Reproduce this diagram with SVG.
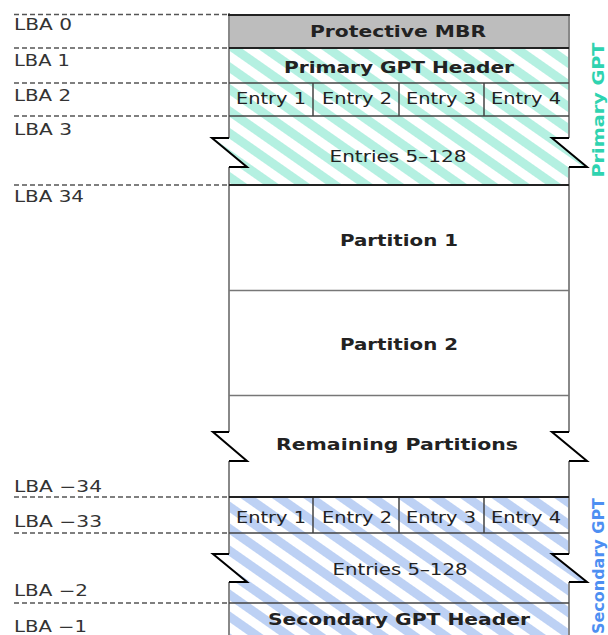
<svg xmlns="http://www.w3.org/2000/svg" width="608" height="635" viewBox="0 0 608 635">
  <style>
    .lba{font-family:"DejaVu Sans","Liberation Sans",sans-serif;font-size:15px;fill:#333}
    .t{font-family:"DejaVu Sans","Liberation Sans",sans-serif;font-size:15.5px;fill:#222;text-anchor:middle}
    .b{font-weight:bold;font-size:16.5px}
    .side{font-family:"DejaVu Sans","Liberation Sans",sans-serif;font-size:16px;font-weight:bold;text-anchor:middle}
    .dash{stroke:#555;stroke-width:1.5;stroke-dasharray:5 3;fill:none}
    .sep{stroke:#444;stroke-width:1.5;fill:none}
    .thick{stroke:#222;stroke-width:2;fill:none}
    .thin{stroke:#777;stroke-width:1.5;fill:none}
    .edge{stroke:#888;stroke-width:2;fill:none}
    .zig{stroke:#000;stroke-width:2;fill:none;stroke-linejoin:miter}
  </style>
  <defs>
    <pattern id="hatchTeal" patternUnits="userSpaceOnUse" width="18" height="18" patternTransform="rotate(-55)">
      <rect width="18" height="18" fill="#fff"/>
      <rect width="9" height="18" fill="#b4f0e1"/>
    </pattern>
    <pattern id="hatchBlue" patternUnits="userSpaceOnUse" width="18" height="18" patternTransform="rotate(-55)">
      <rect width="18" height="18" fill="#fff"/>
      <rect width="9" height="18" fill="#bdd1f4"/>
    </pattern>
  </defs>

  <!-- LBA guide lines and labels -->
  <g id="lba-guides">
    <path class="dash" d="M14,14.5H229M14,48H229M14,83H229M14,116H229M14,185H229M14,497H229M14,533H229M14,603H229"/>
    <text class="lba" x="14" y="30" textLength="58" lengthAdjust="spacingAndGlyphs">LBA 0</text>
    <text class="lba" x="14" y="66" textLength="56" lengthAdjust="spacingAndGlyphs">LBA 1</text>
    <text class="lba" x="14" y="101" textLength="57" lengthAdjust="spacingAndGlyphs">LBA 2</text>
    <text class="lba" x="14" y="135" textLength="58" lengthAdjust="spacingAndGlyphs">LBA 3</text>
    <text class="lba" x="14" y="202" textLength="70" lengthAdjust="spacingAndGlyphs">LBA 34</text>
    <text class="lba" x="14" y="492" textLength="88" lengthAdjust="spacingAndGlyphs">LBA −34</text>
    <text class="lba" x="14" y="527" textLength="88" lengthAdjust="spacingAndGlyphs">LBA −33</text>
    <text class="lba" x="14" y="596" textLength="74" lengthAdjust="spacingAndGlyphs">LBA −2</text>
    <text class="lba" x="14" y="632" textLength="73" lengthAdjust="spacingAndGlyphs">LBA −1</text>
  </g>

  <!-- Protective MBR -->
  <g id="protective-mbr">
    <rect x="229" y="15" width="340" height="33" fill="#bdbdbd"/>
    <text class="t b" x="398" y="37" textLength="176" lengthAdjust="spacingAndGlyphs">Protective MBR</text>
  </g>

  <!-- Primary GPT -->
  <g id="primary-header">
    <rect x="229" y="48" width="340" height="35" fill="url(#hatchTeal)"/>
    <text class="t b" x="399" y="73" textLength="230" lengthAdjust="spacingAndGlyphs">Primary GPT Header</text>
  </g>
  <g id="primary-entries-1-4">
    <rect x="229" y="83" width="340" height="33" fill="url(#hatchTeal)"/>
    <path class="sep" d="M313,83V116M399,83V116M484,83V116"/>
    <text class="t" x="271" y="104" textLength="70" lengthAdjust="spacingAndGlyphs">Entry 1</text>
    <text class="t" x="357" y="104" textLength="70" lengthAdjust="spacingAndGlyphs">Entry 2</text>
    <text class="t" x="441" y="104" textLength="70" lengthAdjust="spacingAndGlyphs">Entry 3</text>
    <text class="t" x="526" y="104" textLength="70" lengthAdjust="spacingAndGlyphs">Entry 4</text>
  </g>
  <g id="primary-entries-5-128">
    <path d="M229,116H569V138H552L587,167H569V185H229V167H247L212,138H229Z" fill="url(#hatchTeal)"/>
    <text class="t" x="398" y="162" textLength="137" lengthAdjust="spacingAndGlyphs">Entries 5–128</text>
  </g>

  <!-- Partitions -->
  <g id="partition-1">
    <text class="t b" x="399" y="246" textLength="118" lengthAdjust="spacingAndGlyphs">Partition 1</text>
  </g>
  <g id="partition-2">
    <text class="t b" x="399" y="350" textLength="118" lengthAdjust="spacingAndGlyphs">Partition 2</text>
  </g>
  <g id="remaining-partitions">
    <text class="t b" x="397" y="450" textLength="242" lengthAdjust="spacingAndGlyphs">Remaining Partitions</text>
  </g>

  <!-- Secondary GPT -->
  <g id="secondary-entries-1-4">
    <rect x="229" y="497" width="340" height="36" fill="url(#hatchBlue)"/>
    <path class="sep" d="M313,497V533M399,497V533M484,497V533"/>
    <text class="t" x="271" y="523" textLength="70" lengthAdjust="spacingAndGlyphs">Entry 1</text>
    <text class="t" x="357" y="523" textLength="70" lengthAdjust="spacingAndGlyphs">Entry 2</text>
    <text class="t" x="441" y="523" textLength="70" lengthAdjust="spacingAndGlyphs">Entry 3</text>
    <text class="t" x="526" y="523" textLength="70" lengthAdjust="spacingAndGlyphs">Entry 4</text>
  </g>
  <g id="secondary-entries-5-128">
    <path d="M229,533H569V554H552L587,582H569V603H229V582H247L212,554H229Z" fill="url(#hatchBlue)"/>
    <text class="t" x="400" y="575" textLength="135" lengthAdjust="spacingAndGlyphs">Entries 5–128</text>
  </g>
  <g id="secondary-header">
    <rect x="229" y="603" width="340" height="40" fill="url(#hatchBlue)"/>
    <text class="t b" x="399" y="625" textLength="262" lengthAdjust="spacingAndGlyphs">Secondary GPT Header</text>
  </g>

  <!-- Outline, separators and break marks -->
  <g id="outline">
    <path class="edge" d="M229,13V138M229,167V432M229,461V554M229,582V635"/>
    <path class="edge" d="M569,14V138M569,167V432M569,461V554M569,582V635"/>
    <path class="thick" d="M228,15H570M229,48H569M229,185H569M229,497H569"/>
    <path class="sep" d="M229,83H569M229,116H569M229,533H569M229,603H569"/>
    <path class="thin" d="M229,290.5H569M229,395.5H569"/>
    <path class="zig" d="M229,138H212L247,167H229M569,138H552L587,167H569"/>
    <path class="zig" d="M229,432H213L247,461H229M569,432H552L587,461H569"/>
    <path class="zig" d="M229,554H213L247,582H229M569,554H552L587,582H569"/>
  </g>

  <!-- Side captions -->
  <g id="side-labels">
    <text class="side" fill="#2fd3b0" transform="translate(604,110) rotate(-90)" textLength="135" lengthAdjust="spacingAndGlyphs">Primary GPT</text>
    <text class="side" fill="#4d8ff2" transform="translate(604,566) rotate(-90)" textLength="136" lengthAdjust="spacingAndGlyphs">Secondary GPT</text>
  </g>
</svg>
